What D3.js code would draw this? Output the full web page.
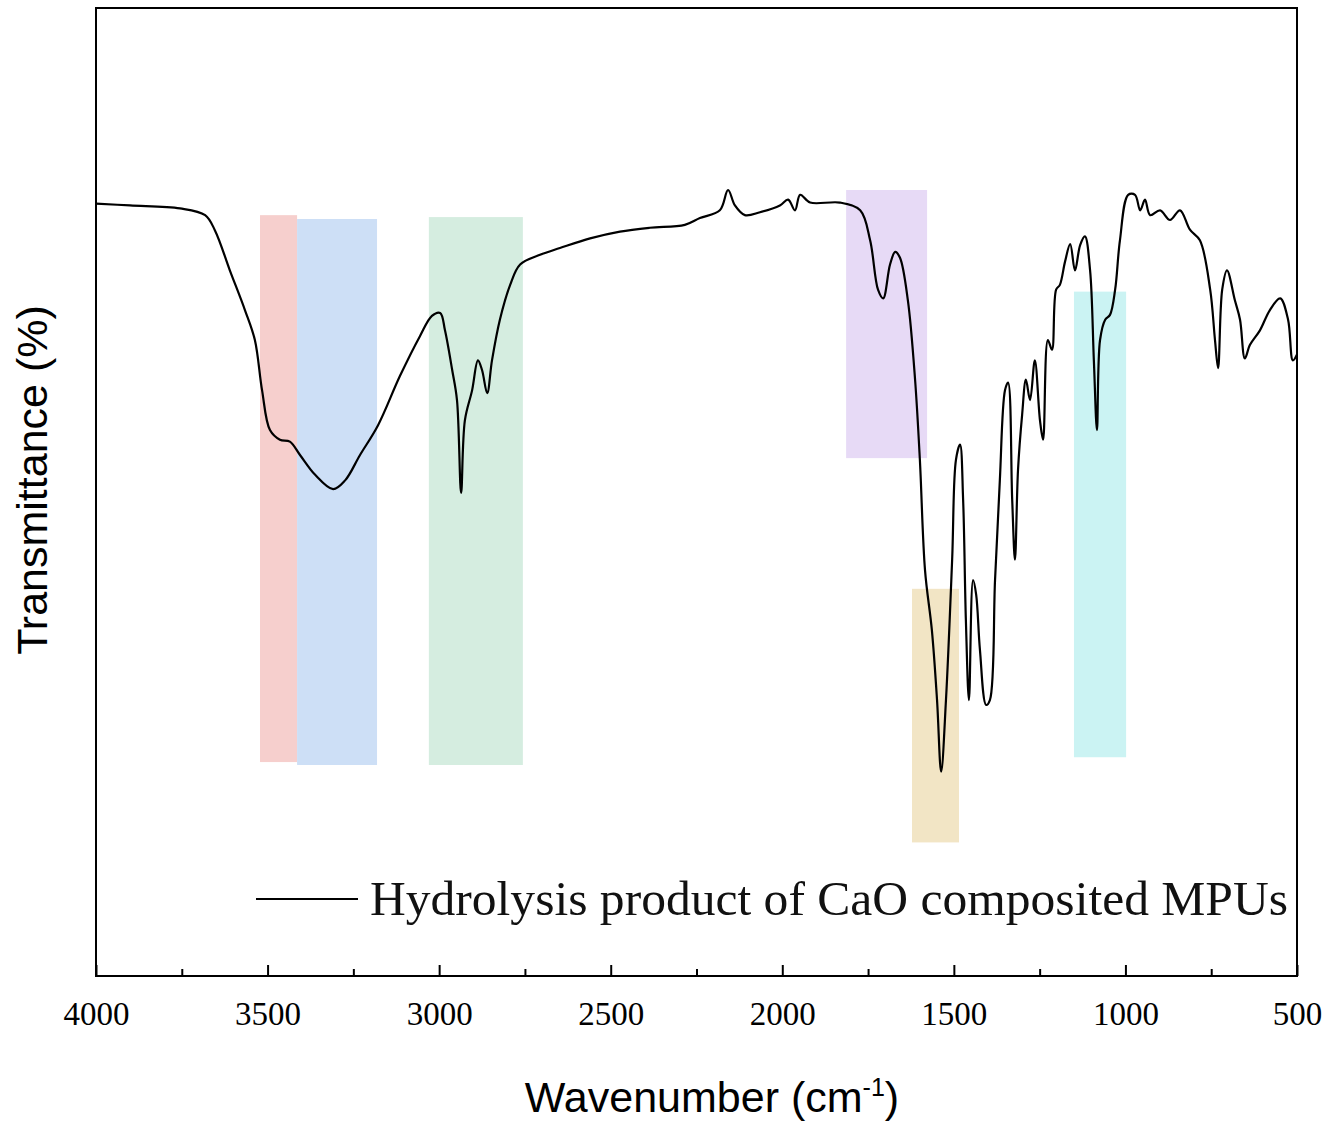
<!DOCTYPE html>
<html>
<head>
<meta charset="utf-8">
<title>FTIR</title>
<style type="text/css">
body {margin: 0; background: #fff;}
</style>
</head>
<body>
<svg width="1339" height="1129"></svg>
<script src="https://d3js.org/d3.v7.min.js"></script>
<script>
var svg = d3.select("svg"),
    margin = {top: 8, right: 42, bottom: 153, left: 96},
    width = +svg.attr("width") - margin.left - margin.right,
    height = +svg.attr("height") - margin.top - margin.bottom,
    g = svg.append("g").attr("transform", "translate(" + margin.left + "," + margin.top + ")");

var x = d3.scaleLinear().domain([4000, 500]).range([0, width]);
var y = d3.scaleLinear().domain([0, 100]).range([height, 0]);

// [wavenumber, transmittance]
var data = [
[4000,79.8],[3901,79.6],[3755,79.3],[3682,78.6],[3653,77.0],[3610,72.9],[3566,68.8],[3537,65.7],
[3516,60.5],[3493,56.4],[3464,55.4],[3435,55.2],[3405,53.8],[3362,51.8],[3309,50.3],[3274,51.2],
[3231,53.8],[3178,56.9],[3114,62.0],[3056,66.1],[3021,68.2],[2997,68.5],[2983,66.7],[2962,62.6],
[2948,59.5],[2936,49.9],[2925,57.4],[2904,60.5],[2887,63.6],[2875,62.6],[2860,60.2],[2846,63.6],
[2823,67.8],[2793,71.4],[2764,73.5],[2706,74.5],[2648,75.2],[2560,76.2],[2473,76.9],[2386,77.3],
[2284,77.6],[2240,78.3],[2182,79.1],[2158,81.2],[2138,79.6],[2109,78.6],[2065,78.9],[2007,79.6],
[1983,80.2],[1963,79.1],[1948,80.7],[1919,79.9],[1832,79.9],[1773,79.1],[1744,76.0],[1721,70.9],
[1706,70.0],[1686,73.5],[1671,74.8],[1657,74.2],[1634,69.8],[1613,61.6],[1599,53.3],[1584,41.9],
[1564,35.7],[1549,28.5],[1537,21.1],[1523,28.5],[1505,43.0],[1494,53.3],[1482,54.9],[1473,49.2],
[1465,36.8],[1456,28.5],[1444,40.9],[1435,39.4],[1424,33.7],[1406,28.0],[1395,28.5],[1380,40.9],
[1366,51.2],[1351,60.5],[1342,61.3],[1330,49.2],[1322,43.0],[1313,52.3],[1301,58.0],[1290,61.6],
[1278,59.5],[1264,63.6],[1249,57.4],[1240,55.4],[1226,65.7],[1214,64.7],[1202,70.9],[1191,71.4],
[1176,73.8],[1161,75.6],[1147,72.9],[1132,75.5],[1118,76.4],[1103,72.9],[1092,63.6],[1083,56.4],
[1074,65.7],[1059,67.8],[1045,68.3],[1030,70.9],[1016,76.0],[992,80.7],[972,80.7],[957,79.1],
[943,80.2],[928,78.6],[899,79.1],[870,78.1],[841,79.1],[812,77.1],[783,76.0],[753,70.9],
[739,65.7],[730,62.8],[718,70.9],[704,72.9],[681,69.8],[666,67.8],[652,63.8],[637,65.2],
[608,66.7],[579,68.8],[549,70.0],[526,67.8],[512,63.6],[500,64.2]
];

// highlighted bands: [w1, w2, tTop, tBottom, colour]
var bands = [
[3522, 3414, 78.6, 22.1, "#f6cfcd"],
[3414, 3181, 78.2, 21.8, "#cddff6"],
[3030, 2756, 78.4, 21.8, "#d5ede0"],
[1814, 1578, 81.2, 53.5, "#e7daf6"],
[1622, 1485, 40.0, 13.8, "#f2e5c5"],
[1150, 998, 70.7, 22.6, "#cbf3f3"]
];

g.selectAll("rect.band")
    .data(bands)
    .enter().append("rect")
    .attr("class", "band")
    .attr("x", function(d) { return x(d[0]); })
    .attr("width", function(d) { return x(d[1]) - x(d[0]); })
    .attr("y", function(d) { return y(d[2]); })
    .attr("height", function(d) { return y(d[3]) - y(d[2]); })
    .attr("fill", function(d) { return d[4]; });

var line = d3.line()
    .x(function(d) { return x(d[0]); })
    .y(function(d) { return y(d[1]); })
    .curve(d3.curveCatmullRom);

g.append("path")
    .datum(data)
    .attr("fill", "none")
    .attr("stroke", "#000")
    .attr("stroke-width", 2.2)
    .attr("d", line);

// frame
g.append("rect")
    .attr("width", width).attr("height", height)
    .attr("fill", "none").attr("stroke", "#000").attr("stroke-width", 2);

// minor ticks
g.append("g")
    .attr("transform", "translate(0," + height + ")")
    .call(d3.axisTop(x).tickValues(d3.range(3750, 500, -500)).tickSize(7).tickFormat(""))
    .call(function(s) { s.select(".domain").remove(); s.selectAll("line").attr("stroke-width", 2); });

var xAxis = g.append("g")
    .attr("transform", "translate(0," + height + ")")
    .call(d3.axisBottom(x).tickValues(d3.range(4000, 499, -500)).tickFormat(d3.format("d"))
        .tickSizeInner(-11).tickSizeOuter(0).tickPadding(26));
xAxis.select(".domain").remove();
xAxis.selectAll("line").attr("stroke-width", 2);
xAxis.selectAll("text")
    .attr("font-family", "Liberation Serif, Times New Roman, serif")
    .attr("font-size", 33)
    .attr("fill", "#000");

svg.append("text")
    .attr("x", 712).attr("y", 1112)
    .attr("text-anchor", "middle")
    .attr("font-family", "Liberation Sans, Arial, sans-serif")
    .attr("font-size", 43)
    .html('Wavenumber (cm<tspan dy="-16" font-size="25">-1</tspan><tspan dy="16">)</tspan>');

svg.append("text")
    .attr("transform", "translate(47,480) rotate(-90)")
    .attr("text-anchor", "middle")
    .attr("font-family", "Liberation Sans, Arial, sans-serif")
    .attr("font-size", 43)
    .text("Transmittance (%)");

// legend
g.append("line")
    .attr("x1", 160).attr("x2", 262).attr("y1", 891).attr("y2", 891)
    .attr("stroke", "#000").attr("stroke-width", 2.2);
g.append("text")
    .attr("x", 274).attr("y", 907)
    .attr("font-family", "Liberation Serif, Times New Roman, serif")
    .attr("font-size", 48)
    .attr("textLength", 918)
    .attr("lengthAdjust", "spacingAndGlyphs")
    .attr("fill", "#111")
    .text("Hydrolysis product of CaO composited MPUs");
</script>
</body>
</html>
